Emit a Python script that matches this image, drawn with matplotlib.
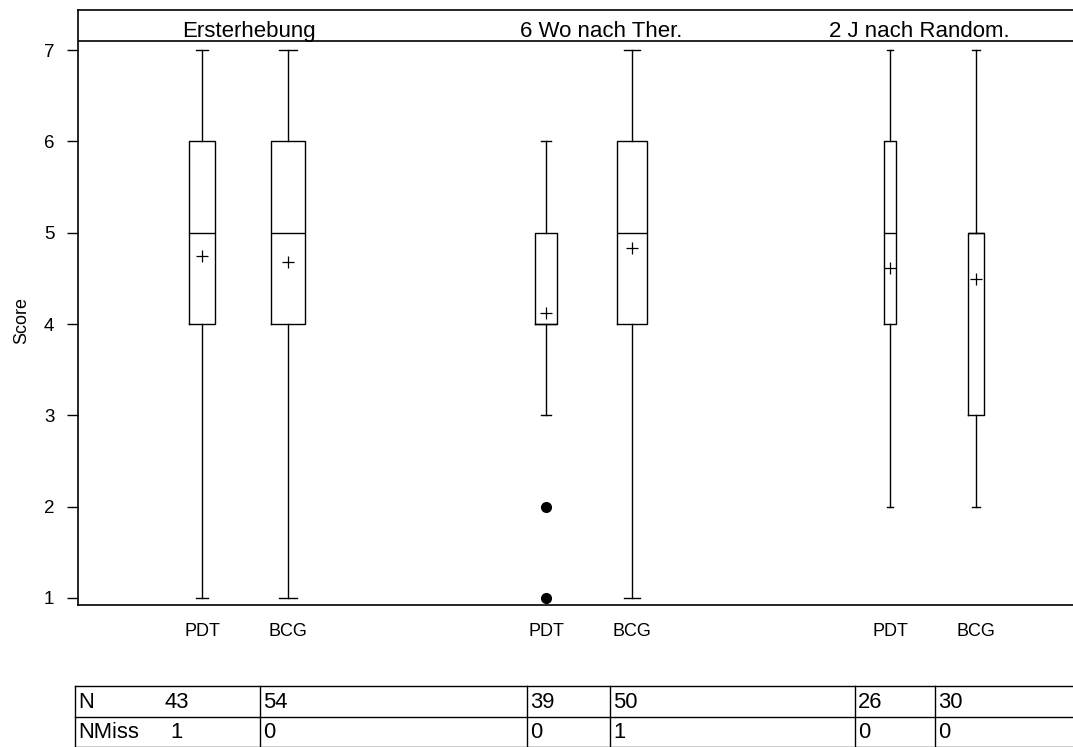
import matplotlib
matplotlib.use("Agg")
import matplotlib.pyplot as plt

plt.rcParams['font.family'] = ['Liberation Sans', 'DejaVu Sans']

# Score je Zeitpunkt und Therapiearm
zeitpunkte = ['Ersterhebung', '6 Wo nach Ther.', '2 J nach Random.']
therapie = ['PDT', 'BCG', 'PDT', 'BCG', 'PDT', 'BCG']
whislo = [1, 1, 3, 1, 2, 2]
q1 = [4, 4, 4, 4, 4, 3]
median = [5, 5, 4, 5, 5, 5]
q3 = [6, 6, 5, 6, 6, 5]
whishi = [7, 7, 6, 7, 7, 7]
mittel = [4.74, 4.68, 4.12, 4.83, 4.61, 4.49]
ausreisser = [[], [], [2, 1], [], [], []]
n_obs = [43, 54, 39, 50, 26, 30]
n_miss = [1, 0, 0, 1, 0, 0]

# Layout
pos = [1, 2, 5, 6, 9, 10]
breiten = [0.30, 0.40, 0.245, 0.36, 0.14, 0.175]
titel_x = [1.55, 5.64, 9.34]

W, H = 1073, 747
fig = plt.figure(figsize=(W / 100, H / 100), dpi=100)
ax = fig.add_axes([78 / W, 1 - 605 / H, (1085 - 78) / W, (605 - 10) / H])

stats = []
for i in range(len(pos)):
    stats.append(dict(whislo=whislo[i], q1=q1[i], med=median[i], q3=q3[i],
                      whishi=whishi[i], mean=mittel[i], fliers=ausreisser[i]))

lw = 1.0
ax.bxp(stats, positions=pos, widths=breiten,
       capwidths=[b / 2 for b in breiten],
       showmeans=True, manage_ticks=False,
       boxprops=dict(color='black', linewidth=lw),
       whiskerprops=dict(color='black', linewidth=lw),
       capprops=dict(color='black', linewidth=lw),
       medianprops=dict(color='black', linewidth=lw),
       meanprops=dict(marker='+', markeredgecolor='black', markersize=8,
                      markeredgewidth=0.9),
       flierprops=dict(marker='o', markerfacecolor='black',
                       markeredgecolor='black', markersize=7))

ax.set_xlim(1 - (202 - 78) / 86, 1 + (1085 - 202) / 86)
ax.set_ylim(1 - 7 / 91.33, 7 + 40 / 91.33)

# Kopfzeile mit den Zeitpunkten
ax.axhline(7 + 9 / 91.33, color='black', linewidth=1.2)
for x, t in zip(titel_x, zeitpunkte):
    ax.text(x, 7 + 13 / 91.33, t, ha='center', va='baseline', fontsize=16)

ax.set_yticks(range(1, 8))
ax.tick_params(axis='y', length=8, width=1, pad=9, labelsize=13.5)
ax.set_xticks(pos)
ax.set_xticklabels(therapie)
ax.tick_params(axis='x', length=0, pad=13, labelsize=13)
ax.spines['right'].set_visible(False)
for s in ['left', 'top', 'bottom']:
    ax.spines[s].set_linewidth(1.2)
ax.set_ylabel('Score', fontsize=13)
ax.yaxis.set_label_coords(-0.047, (605 - 320) / 595)

# Tabelle mit N und NMiss
tab = fig.add_axes([0, 0, 1, 1], facecolor='none')
tab.set_xlim(0, W)
tab.set_ylim(H, 0)
tab.axis('off')
spalten = [75, 260, 527, 610, 855, 935]
zeilen = [686, 717, 747]
for y in zeilen:
    tab.plot([spalten[0], W], [y, y], color='black', linewidth=1)
for x in spalten:
    tab.plot([x, x], [zeilen[0], zeilen[-1]], color='black', linewidth=1)

for r, (name, werte) in enumerate([('N', n_obs), ('NMiss', n_miss)]):
    yc = (zeilen[r] + zeilen[r + 1]) / 2 + 1
    tab.text(spalten[0] + 3, yc, name, ha='left', va='center', fontsize=15.8)
    tab.text(177, yc, str(werte[0]), ha='center', va='center', fontsize=15.8)
    for x, v in zip(spalten[1:], werte[1:]):
        tab.text(x + 3, yc, str(v), ha='left', va='center', fontsize=15.8)

fig.savefig('out.png', dpi=100)
